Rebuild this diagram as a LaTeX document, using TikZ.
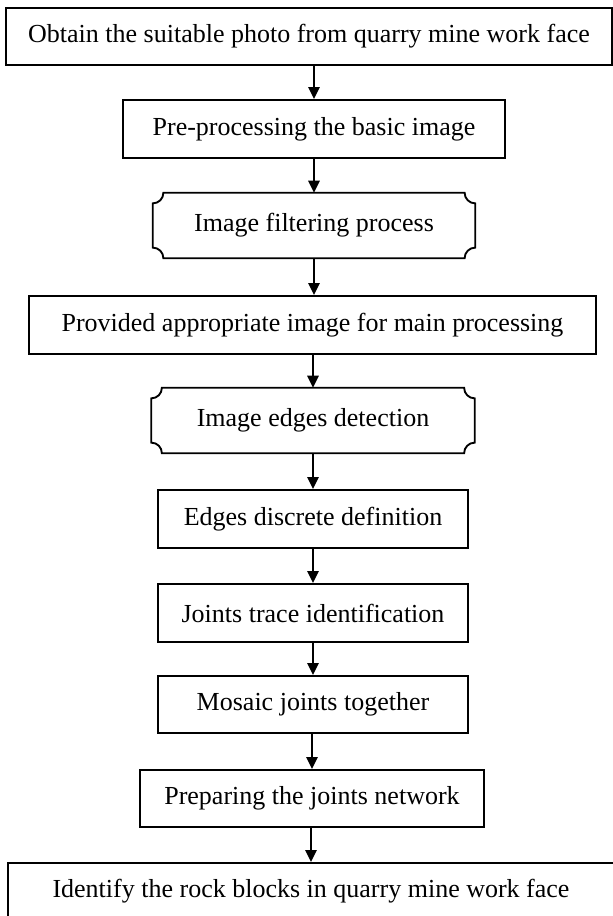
\documentclass[tikz,border=0pt]{standalone}
\usepackage{fontspec}
\setmainfont{Liberation Serif}
\usetikzlibrary{arrows.meta,calc}
\tikzset{
  box/.style={draw, line width=1.4pt, inner sep=0pt, align=center,
    font=\fontsize{19.5}{23}\selectfont},
  curlybox/.style={inner sep=0pt, align=center,
    font=\fontsize{19.5}{23}\selectfont},
  arr/.style={line width=1.4pt, -{Triangle[width=8.5pt,length=9pt]}},
  curlyline/.style={line width=1.4pt}
}
\newcommand\curlyframe[2]{%
  \draw[curlyline] ([xshift=#2]#1.north west) -- ([xshift=-#2]#1.north east)
    arc[start angle=180,end angle=270,radius=#2]
    -- ([yshift=#2]#1.south east)
    arc[start angle=90,end angle=180,radius=#2]
    -- ([xshift=#2]#1.south west)
    arc[start angle=0,end angle=90,radius=#2]
    -- ([yshift=-#2]#1.north west)
    arc[start angle=270,end angle=360,radius=#2] -- cycle;}
\begin{document}
\begin{tikzpicture}[x=0.75pt,y=-0.75pt]
\useasboundingbox (0,0) rectangle (613,916);
\fill[white] (0,0) rectangle (613,916);
\clip (0,0) rectangle (613,916);
\node[box, minimum width=454.5pt, minimum height=43.1pt] (b1) at (309,36.5)
  {Obtain the suitable photo from quarry mine work face};
\node[box, minimum width=286.5pt, minimum height=43.5pt] (b2) at (314,129)
  {Pre-processing the basic image};
\node[curlybox, minimum width=241.5pt, minimum height=48.75pt] (b3) at (314,225.5)
  {Image filtering process};
\curlyframe{b3}{8pt}
\node[box, minimum width=425.25pt, minimum height=43.5pt] (b4) at (312.5,325)
  {Provided appropriate image for main processing};
\node[curlybox, minimum width=242.25pt, minimum height=48.75pt] (b5) at (313,420.5)
  {Image edges detection};
\curlyframe{b5}{8pt}
\node[box, minimum width=232.5pt, minimum height=43.5pt] (b6) at (313,519)
  {Edges discrete definition};
\node[box, minimum width=232.5pt, minimum height=43.5pt] (b7) at (313,613)
  {Joints trace identification};
\node[box, minimum width=232.5pt, minimum height=42.75pt] (b8) at (313,704.5)
  {Mosaic joints together};
\node[box, minimum width=258pt, minimum height=42.75pt] (b9) at (312,798.5)
  {Preparing the joints network};
\node[box, minimum width=454.5pt, minimum height=42.75pt] (b10) at (311,891.5)
  {Identify the rock blocks in quarry mine work face};
\draw[arr] (b1.south -| b2.north) -- (b2.north);
\draw[arr] (b2.south) -- (b2.south |- b3.north);
\draw[arr] (b3.south) -- (b3.south |- b4.north);
\draw[arr] (b4.south -| b5.north) -- (b5.north);
\draw[arr] (b5.south -| b6.north) -- (b6.north);
\draw[arr] (b6.south) -- (b7.north);
\draw[arr] (b7.south) -- (b8.north);
\draw[arr] (b8.south -| b9.north) -- (b9.north);
\draw[arr] (b9.south -| b10.north) -- (b10.north);
\end{tikzpicture}
\end{document}
